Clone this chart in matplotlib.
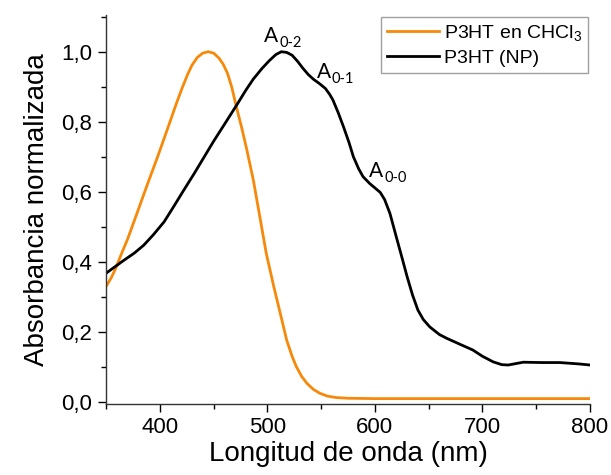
import numpy as np
import matplotlib
matplotlib.use("Agg")
import matplotlib.pyplot as plt
from matplotlib.ticker import MultipleLocator, FuncFormatter

plt.rcParams['font.family'] = ['Liberation Sans', 'DejaVu Sans']
plt.rcParams['mathtext.fontset'] = 'custom'
plt.rcParams['mathtext.rm'] = 'Liberation Sans'
plt.rcParams['mathtext.default'] = 'regular'

# P3HT en CHCl3 (solution)
wl_sol = [350, 355, 359, 364, 370, 379, 388, 398, 407, 416, 421, 426, 430, 435,
          440, 445, 450, 455, 459, 463, 467, 471, 476, 481, 487, 493, 499, 506,
          512, 518, 523, 527, 532, 537, 543, 549, 556, 564, 575, 600, 650, 700,
          750, 800]
abs_sol = [0.329, 0.355, 0.381, 0.42, 0.464, 0.54, 0.617, 0.70, 0.778, 0.857,
           0.898, 0.936, 0.962, 0.984, 0.996, 1.0, 0.996, 0.982, 0.964, 0.938,
           0.898, 0.845, 0.785, 0.719, 0.633, 0.529, 0.424, 0.329, 0.253, 0.176,
           0.13, 0.10, 0.072, 0.052, 0.035, 0.024, 0.016, 0.012, 0.010, 0.009,
           0.009, 0.009, 0.009, 0.009]

# P3HT nanoparticles
wl_np = [350, 358, 367, 376, 385, 394, 404, 413, 422, 432, 441, 450, 460, 466,
         472, 480, 487, 495, 502, 508, 513, 518, 523, 528, 533, 538, 543, 548,
         554, 558, 561, 566, 571, 576, 580, 585, 589, 595, 600, 605, 609, 614,
         620, 625, 630, 635, 640, 645, 651, 660, 667, 680, 691, 700, 710, 718,
         724, 731, 738, 755, 772, 790, 800]
abs_np = [0.367, 0.385, 0.405, 0.424, 0.447, 0.477, 0.514, 0.558, 0.603, 0.652,
          0.698, 0.744, 0.792, 0.821, 0.85, 0.89, 0.922, 0.952, 0.975, 0.992,
          1.0, 0.998, 0.99, 0.973, 0.953, 0.935, 0.921, 0.91, 0.895, 0.878,
          0.862, 0.825, 0.784, 0.74, 0.70, 0.665, 0.643, 0.624, 0.611, 0.598,
          0.578, 0.538, 0.47, 0.414, 0.357, 0.305, 0.262, 0.235, 0.214, 0.192,
          0.181, 0.163, 0.148, 0.13, 0.114, 0.106, 0.105, 0.109, 0.113, 0.112,
          0.112, 0.108, 0.105]

# vibronic labels: (main, subscript, wavelength, absorbance)
peaks = [("A", "0-2", 497.2, 1.029),
         ("A", "0-1", 545.9, 0.924),
         ("A", "0-0", 594.8, 0.643)]

fig = plt.figure(figsize=(6.11, 4.75), dpi=100)
ax = fig.add_axes([0.1735, 0.1505, 0.7921, 0.818])

ax.plot(wl_sol, abs_sol, color='#f7890a', lw=2.0, label='P3HT en CHCl$_3$',
        solid_joinstyle='round')
ax.plot(wl_np, abs_np, color='black', lw=2.0, label='P3HT (NP)',
        solid_joinstyle='round')

for main, sub, x, y in peaks:
    ax.text(x, y, main, fontsize=15, family='Lato', ha='left', va='baseline')
    ax.annotate(sub, xy=(x, y), xytext=(11, -3.6), textcoords='offset points',
                fontsize=10.5, family='Lato', ha='left', va='baseline')

ax.set_xlim(350, 800)
ax.set_ylim(-0.005, 1.105)
ax.xaxis.set_major_locator(MultipleLocator(100))
ax.xaxis.set_minor_locator(MultipleLocator(50))
ax.yaxis.set_major_locator(MultipleLocator(0.2))
ax.yaxis.set_minor_locator(MultipleLocator(0.1))
ax.yaxis.set_major_formatter(FuncFormatter(lambda v, p: f"{v:.1f}".replace('.', ',')))
ax.tick_params(which='major', direction='out', length=6, width=1, labelsize=16, pad=4)
ax.tick_params(which='minor', direction='out', length=3.5, width=1)

for s in ['top', 'right']:
    ax.spines[s].set_visible(False)
for s in ['left', 'bottom']:
    ax.spines[s].set_linewidth(1)
    ax.spines[s].set_color('#333333')

ax.set_xlabel('Longitud de onda (nm)', fontsize=20, labelpad=2)
ax.set_ylabel('Absorbancia normalizada', fontsize=20, labelpad=8)

leg = ax.legend(loc='upper right', fontsize=14, frameon=True, fancybox=False,
                edgecolor='#888888', borderaxespad=0.1, handlelength=2.7,
                handletextpad=0.25, borderpad=0.3, labelspacing=0.35)
leg.get_frame().set_linewidth(1)

fig.savefig('out.png', dpi=100)
